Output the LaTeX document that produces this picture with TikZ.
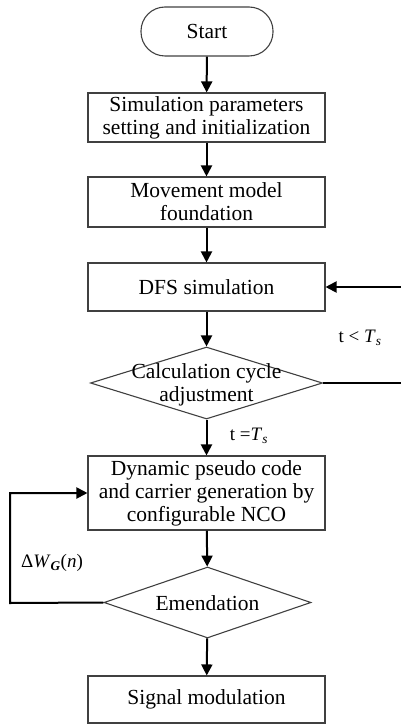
\documentclass[tikz,border=0pt]{standalone}
\usepackage{fontspec}
\setmainfont{Liberation Serif}
\usetikzlibrary{arrows.meta,shapes.geometric}
\begin{document}
\begin{tikzpicture}[x=1pt,y=-1pt,
  every node/.style={font=\fontsize{21.5}{23}\selectfont},
  stepbox/.style={draw=black!75, line width=1.1pt, minimum width=237pt, inner sep=0pt, align=center},
  dec/.style={draw=black!75, line width=1.1pt, diamond, inner sep=0pt},
  conn/.style={line width=2pt, -{Triangle[length=11pt,width=11pt]}},
  lbl/.style={font=\fontsize{19}{21}\selectfont, inner sep=0pt}]
\useasboundingbox (0,0) rectangle (400,727);
\node[draw=black!75, line width=1.1pt, minimum width=132pt, minimum height=49pt, rounded corners=24pt, inner sep=0pt] (start) at (207,31.5) {Start};
\node[stepbox, minimum height=49pt] (b1) at (206.5,117.5) {Simulation parameters\\setting and initialization};
\node[stepbox, minimum height=50pt] (b2) at (206.5,202) {Movement model\\foundation};
\node[stepbox, minimum height=48pt] (dfs) at (206.5,287) {DFS simulation};
\node[dec, minimum width=232pt, minimum height=72pt] (d1) at (206.5,383) {};
\node[inner sep=0pt, align=center] (d1t) at (206.5,385) {Calculation cycle\\adjustment};
\node[stepbox, minimum height=74pt] (dyn) at (206.5,493) {Dynamic pseudo code\\and carrier generation by\\configurable NCO};
\node[dec, minimum width=207pt, minimum height=71pt] (d2) at (207.5,602.5) {};
\node[inner sep=0pt] (d2t) at (207.5,603) {Emendation};
\node[stepbox, minimum height=47pt] (sig) at (206.5,699.5) {Signal modulation};
\coordinate (r1) at (406,383);
\coordinate (r2) at (406,287);
\coordinate (l1) at (10,603);
\coordinate (l2) at (10,493);
\draw[conn] (start) -- (b1);
\draw[conn] (b1) -- (b2);
\draw[conn] (b2) -- (dfs);
\draw[conn] (dfs) -- (d1);
\draw[conn] (d1) -- (dyn);
\draw[conn] (dyn) -- (d2);
\draw[conn] (d2) -- (sig);
\draw[conn] (d1.east) -- (r1) -- (r2) -- (dfs.east);
\draw[conn] (d2.west) -- (l1) -- (l2) -- (dyn.west);
\node[lbl] (lt) at (360,338) {t < \textit{T}\textsubscript{\textit{s}}};
\node[lbl] (le) at (249,436) {t =\textit{T}\textsubscript{\textit{s}}};
\node[lbl] (lw) at (52,563) {Δ\textit{W}\textsubscript{\textbf{\textit{G}}}(\textit{n})};
\end{tikzpicture}
\end{document}
